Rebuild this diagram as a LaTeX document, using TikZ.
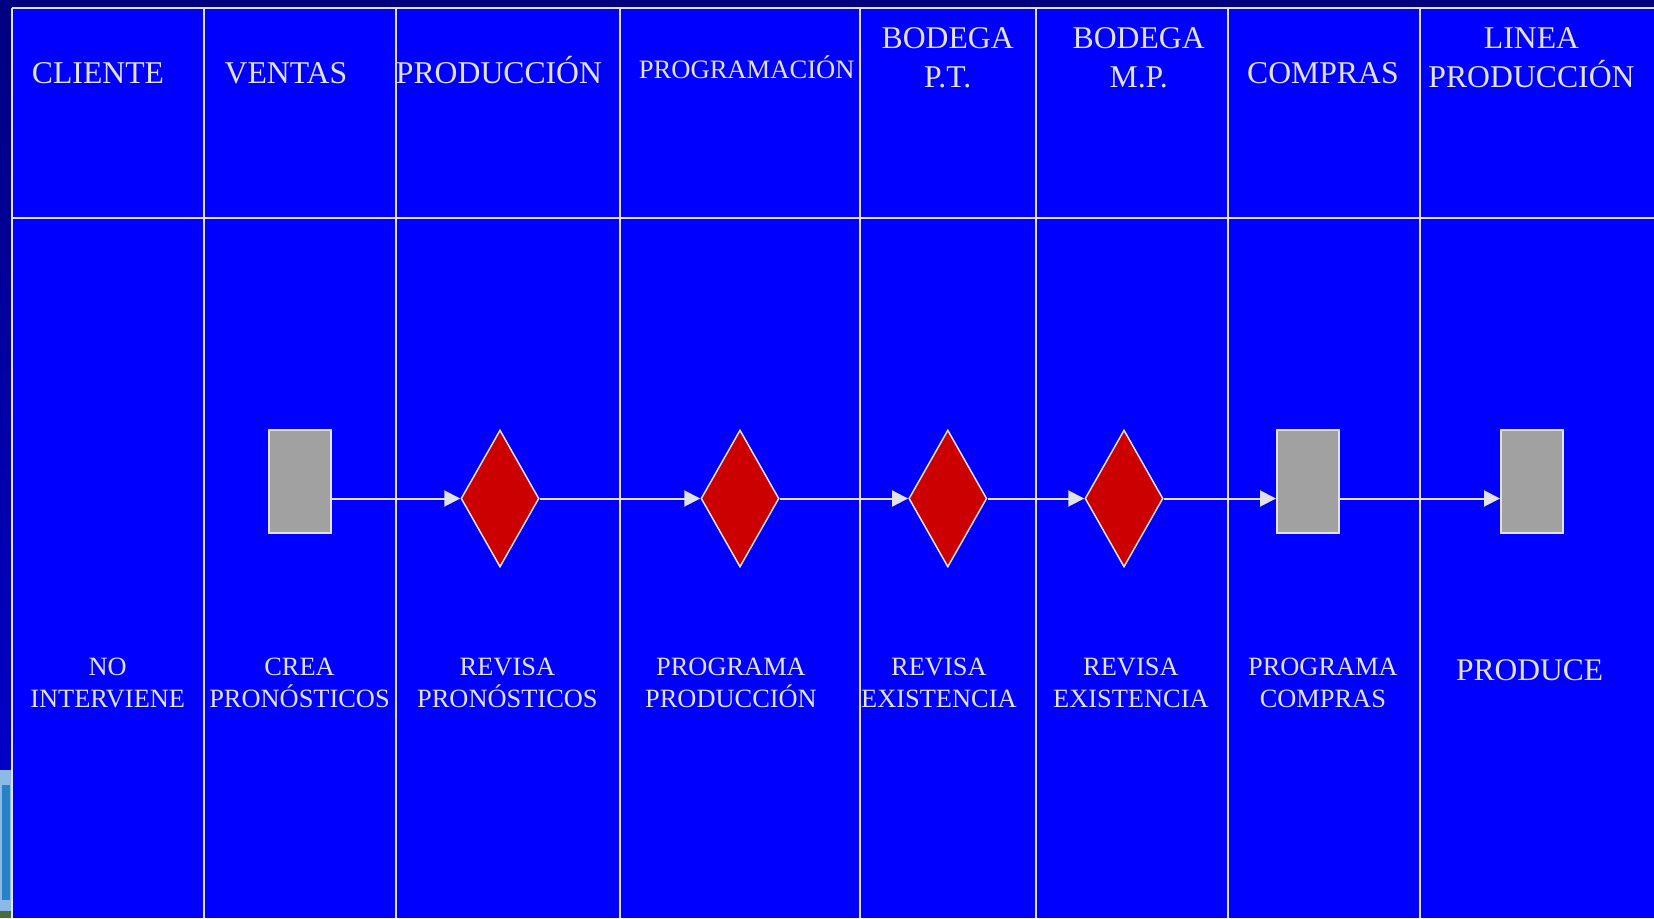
\documentclass[tikz,border=0pt]{standalone}
\usepackage{fontspec}
\setmainfont{Liberation Serif}
\usetikzlibrary{shapes.geometric,arrows.meta}
\definecolor{navy}{RGB}{0,0,128}
\definecolor{navylow}{RGB}{0,0,200}
\definecolor{lane}{RGB}{0,0,255}
\definecolor{rulec}{RGB}{226,226,226}
\definecolor{boxgray}{RGB}{161,161,161}
\definecolor{dred}{RGB}{204,0,0}
\definecolor{photo}{RGB}{140,185,230}
\definecolor{photob}{RGB}{40,130,200}
\definecolor{photog}{RGB}{70,110,60}
\begin{document}
\begin{tikzpicture}[x=1pt,y=-1pt,
  lanerule/.style={draw=rulec,line width=2pt},
  hdr/.style={text=rulec,font=\fontsize{31.7}{38.5}\selectfont,align=center,anchor=base,inner sep=0pt},
  hdrsmall/.style={hdr,font=\fontsize{26.6}{32}\selectfont},
  act/.style={text=rulec,font=\fontsize{26.4}{32}\selectfont,align=center,anchor=base,inner sep=0pt},
  actbig/.style={act,font=\fontsize{31.5}{38}\selectfont},
  taskbox/.style={rectangle,draw=rulec,line width=2pt,fill=boxgray,minimum width=62pt,minimum height=103pt,inner sep=0pt},
  decision/.style={diamond,draw=rulec,line width=1.5pt,fill=dred,minimum width=78pt,minimum height=137pt,inner sep=0pt},
  flow/.style={draw=rulec,line width=2pt,-{Triangle[length=16pt,width=16pt]}}
]
\useasboundingbox (0,0) rectangle (1654,918);
% background outside the table
\fill[navy] (0,0) rectangle (1654,8);
\shade[top color=navy,bottom color=navylow] (0,0) rectangle (12,770);
\fill[photo] (0,770) rectangle (12,918);
\fill[photob] (2,785) rectangle (10,900);
\fill[photog] (0,911) rectangle (12,918);
% table
\fill[lane] (12,8) rectangle (1654,918);
\draw[lanerule] (12,8) -- (1654,8);
\draw[lanerule] (12,218) -- (1654,218);
\foreach \x in {12,203.7,395.7,620.2,859.7,1035.9,1227.9,1420}
  \draw[lanerule] (\x,8) -- (\x,918);
% headers (base anchor = baseline of the last line)
\node[hdr] (hcli) at (98,83.3) {CLIENTE};
\node[hdr] (hven) at (285.9,83.3) {VENTAS};
\node[hdr] (hpro) at (499,83.3) {PRODUCCIÓN};
\node[hdrsmall] (hprg) at (746.7,78.3) {PROGRAMACIÓN};
\node[hdr] (hbpt) at (947.7,87) {BODEGA\\P.T.};
\node[hdr] (hbmp) at (1138.7,87) {BODEGA\\M.P.};
\node[hdr] (hcom) at (1322.9,83.3) {COMPRAS};
\node[hdr] (hlin) at (1531.5,87.3) {LINEA\\PRODUCCIÓN};
% shapes
\node[taskbox] (r1) at (300,481.5) {};
\node[decision] (d1) at (500,498.5) {};
\node[decision] (d2) at (740,498.5) {};
\node[decision] (d3) at (947.8,498.5) {};
\node[decision] (d4) at (1124,498.5) {};
\node[taskbox] (r2) at (1308,481.5) {};
\node[taskbox] (r3) at (1532,481.5) {};
% connectors
\draw[flow] (r1.east |- d1.west) -- (d1.west);
\draw[flow] (d1.east) -- (d2.west);
\draw[flow] (d2.east) -- (d3.west);
\draw[flow] (d3.east) -- (d4.west);
\draw[flow] (d4.east) -- (d4.east -| r2.west);
\draw[flow] (r2.east |- d4.east) -- (d4.east -| r3.west);
% activity labels
\node[act] (t1) at (107.7,707) {NO\\INTERVIENE};
\node[act] (t2) at (299.5,707) {CREA\\PRONÓSTICOS};
\node[act] (t3) at (507.4,707) {REVISA\\PRONÓSTICOS};
\node[act] (t4) at (731,707) {PROGRAMA\\PRODUCCIÓN};
\node[act] (t5) at (938.9,707) {REVISA\\EXISTENCIA};
\node[act] (t6) at (1130.9,707) {REVISA\\EXISTENCIA};
\node[act] (t7) at (1322.9,707) {PROGRAMA\\COMPRAS};
\node[actbig] (t8) at (1529.6,680) {PRODUCE};
\end{tikzpicture}
\end{document}
